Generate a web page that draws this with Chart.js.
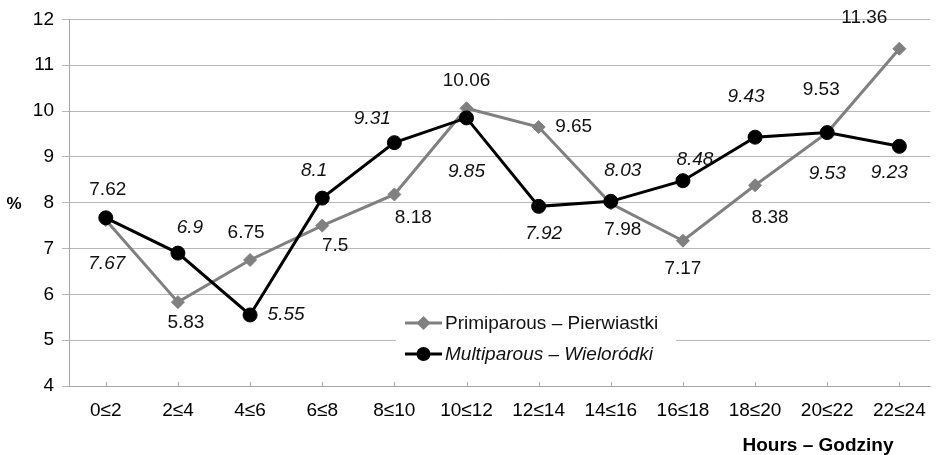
<!DOCTYPE html>
<html><head><meta charset="utf-8">
<script src="https://cdn.jsdelivr.net/npm/chart.js@4/dist/chart.umd.min.js"></script>
<style>html,body{margin:0;padding:0;background:#fff}canvas{display:block}</style>
</head><body>
<canvas id="c" width="939" height="455"></canvas>
<script>
const categories = ['0≤2','2≤4','4≤6','6≤8','8≤10','10≤12','12≤14','14≤16','16≤18','18≤20','20≤22','22≤24'];
const primiparous = [7.62, 5.83, 6.75, 7.5, 8.18, 10.06, 9.65, 7.98, 7.17, 8.38, 9.53, 11.36];
const multiparous = [7.67, 6.9, 5.55, 8.1, 9.31, 9.85, 7.92, 8.03, 8.48, 9.43, 9.53, 9.23];
const seriesNames = ['Primiparous – Pierwiastki', 'Multiparous – Wieloródki'];
const yMin = 4, yMax = 12, yStep = 1;
const xTitle = 'Hours – Godziny';
const yTitle = '%';

// label placement offsets (pixels, style only)
const primiLabelOffsets = [[2,-30],[8,21],[-4,-27],[13,20],[19,23],[0,-28],[35,0],[12,26],[0,28],[15,32],[-6,-43],[-35,-31]];
const multiLabelOffsets = [[1,46],[12,-25],[36,0],[-8,-27],[-22,-24],[0,54],[5,27],[12,-31],[12,-21],[-9,-40],[0,41],[-10,26]];

const FONT = "'Liberation Sans', Arial, sans-serif";
Chart.defaults.font.family = FONT;
Chart.defaults.color = '#000';

const GRAY = '#808080';

const extras = {
  id: 'extras',
  afterDatasetsDraw(chart) {
    const ctx = chart.ctx;
    const area = chart.chartArea;
    const xs = chart.scales.x;
    ctx.save();
    ctx.strokeStyle = '#a6a6a6';
    ctx.lineWidth = 1;
    categories.forEach((c, i) => {
      const x = Math.round(xs.getPixelForValue(i)) + 0.5;
      ctx.beginPath();
      ctx.moveTo(x, area.bottom);
      ctx.lineTo(x, area.bottom - 4);
      ctx.stroke();
    });
    // data labels
    ctx.textAlign = 'center';
    ctx.textBaseline = 'middle';
    ctx.fillStyle = '#111';
    const offs = [primiLabelOffsets, multiLabelOffsets];
    chart.data.datasets.forEach((ds, di) => {
      const meta = chart.getDatasetMeta(di);
      ctx.font = (di === 1 ? 'italic ' : '') + '19px ' + FONT;
      meta.data.forEach((pt, i) => {
        const o = offs[di][i];
        ctx.fillText(String(ds.data[i].y), pt.x + o[0], pt.y + o[1]);
      });
    });
    // legend box
    ctx.fillStyle = '#fff';
    ctx.fillRect(396, 305, 280, 67);
    const rows = [
      {y: 323, color: GRAY, style: 'rectRot', r: 5, italic: false},
      {y: 354, color: '#000', style: 'circle', r: 5.5, italic: true}
    ];
    rows.forEach((row, i) => {
      ctx.strokeStyle = row.color;
      ctx.lineWidth = 3;
      ctx.beginPath();
      ctx.moveTo(405, row.y);
      ctx.lineTo(442, row.y);
      ctx.stroke();
      ctx.fillStyle = row.color;
      Chart.helpers.drawPoint(ctx, {pointStyle: row.style, radius: row.r, borderWidth: 1}, 423.5, row.y);
      ctx.fillStyle = '#111';
      ctx.textAlign = 'left';
      ctx.font = (row.italic ? 'italic ' : '') + '19px ' + FONT;
      ctx.fillText(seriesNames[i], 445, row.y + 1);
    });
    // axis titles
    ctx.fillStyle = '#000';
    ctx.textAlign = 'center';
    ctx.font = 'bold 17px ' + FONT;
    ctx.fillText(yTitle, 14, 204);
    ctx.font = 'bold 19px ' + FONT;
    ctx.fillText(xTitle, 818, 446);
    ctx.restore();
  }
};

const toPts = arr => arr.map((v, i) => ({x: i, y: v}));

new Chart(document.getElementById('c'), {
  type: 'line',
  data: {
    datasets: [
      {
        label: seriesNames[0], data: toPts(primiparous),
        borderColor: GRAY, backgroundColor: GRAY, borderWidth: 3,
        pointStyle: 'rectRot', pointRadius: 6.5, pointBackgroundColor: GRAY, pointBorderColor: GRAY,
        pointBorderWidth: 1, tension: 0, order: 2
      },
      {
        label: seriesNames[1], data: toPts(multiparous),
        borderColor: '#000', backgroundColor: '#000', borderWidth: 3,
        pointStyle: 'circle', pointRadius: 7, pointBackgroundColor: '#000', pointBorderColor: '#000',
        pointBorderWidth: 1, tension: 0, order: 1
      }
    ]
  },
  plugins: [extras],
  options: {
    responsive: false,
    animation: false,
    devicePixelRatio: 1,
    layout: {padding: {top: 18, right: 0, left: 0, bottom: 0}},
    plugins: {legend: {display: false}, tooltip: {enabled: false}},
    scales: {
      x: {
        type: 'linear', min: -0.51, max: 11.43,
        afterBuildTicks: s => { s.ticks = categories.map((_, i) => ({value: i})); },
        afterFit: s => { s.height = 69; },
        ticks: {callback: v => categories[v], autoSkip: false, maxRotation: 0, font: {size: 19}, color: '#000', padding: 13},
        grid: {drawOnChartArea: false, drawTicks: false},
        border: {color: '#a6a6a6', width: 1}
      },
      y: {
        min: yMin, max: yMax,
        afterFit: s => { s.width = 69; },
        ticks: {stepSize: yStep, font: {size: 19}, color: '#000', padding: 8},
        grid: {color: '#b8b8b8', tickLength: 7, lineWidth: 1},
        border: {color: '#a6a6a6', width: 1}
      }
    }
  }
});
</script>
</body></html>
